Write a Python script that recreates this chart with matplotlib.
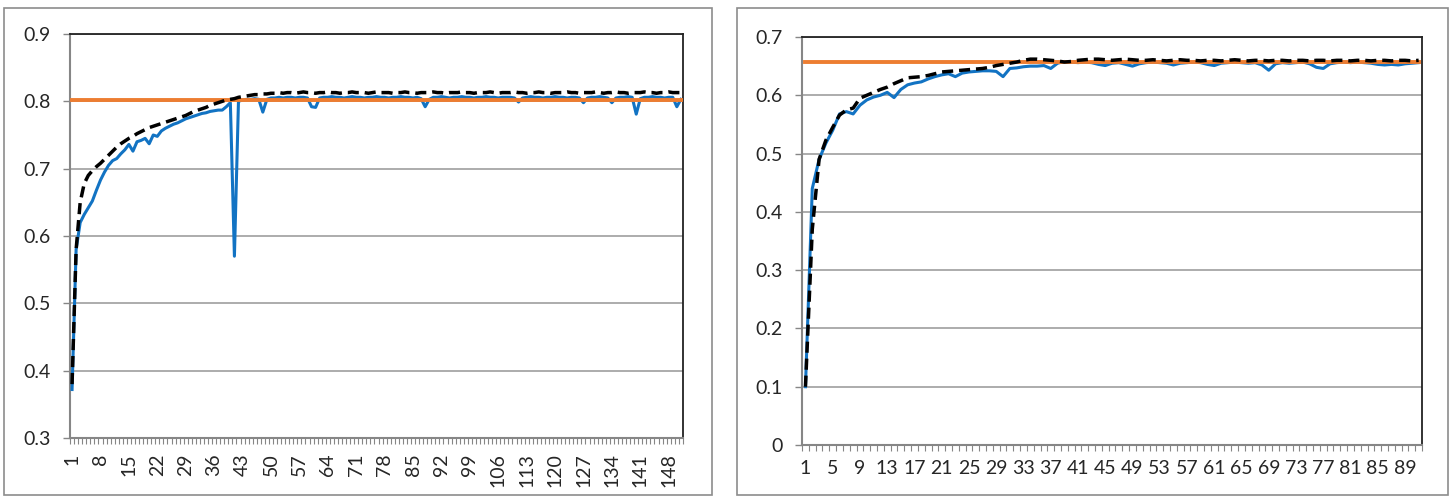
import matplotlib
matplotlib.use("Agg")
import matplotlib.pyplot as plt
import matplotlib.patches as patches
import numpy as np

plt.rcParams['font.family'] = ['Lato', 'DejaVu Sans']

# painel esquerdo (151 pontos)
esq_azul = [
    0.372, 0.580, 0.620, 0.632, 0.642, 0.652, 0.668, 0.683, 0.695, 0.705,
    0.712, 0.715, 0.722, 0.728, 0.736, 0.726, 0.740, 0.742, 0.745, 0.737,
    0.750, 0.748, 0.756, 0.760, 0.763, 0.766, 0.768, 0.771, 0.774, 0.776,
    0.778, 0.780, 0.782, 0.783, 0.785, 0.786, 0.787, 0.787, 0.792, 0.798,
    0.570, 0.800, 0.802, 0.803, 0.803, 0.804, 0.803, 0.784, 0.803, 0.805,
    0.805, 0.806, 0.805, 0.806, 0.806, 0.805, 0.806, 0.806, 0.805, 0.792,
    0.791, 0.805, 0.806, 0.806, 0.807, 0.806, 0.806, 0.805, 0.806, 0.807,
    0.806, 0.806, 0.805, 0.806, 0.806, 0.807, 0.806, 0.806, 0.805, 0.806,
    0.806, 0.807, 0.806, 0.806, 0.805, 0.806, 0.804, 0.792, 0.803, 0.806,
    0.806, 0.807, 0.806, 0.805, 0.806, 0.806, 0.807, 0.806, 0.806, 0.805,
    0.806, 0.806, 0.807, 0.806, 0.806, 0.805, 0.806, 0.806, 0.806, 0.805,
    0.799, 0.805, 0.806, 0.807, 0.806, 0.806, 0.805, 0.806, 0.806, 0.807,
    0.806, 0.806, 0.805, 0.806, 0.806, 0.805, 0.798, 0.805, 0.806, 0.806,
    0.807, 0.806, 0.805, 0.798, 0.805, 0.806, 0.806, 0.807, 0.806, 0.781,
    0.804, 0.806, 0.806, 0.807, 0.806, 0.806, 0.805, 0.806, 0.806, 0.792,
    0.803,
]
esq_tracejado = [
    0.380, 0.580, 0.650, 0.678, 0.690, 0.697, 0.703, 0.708, 0.714, 0.720,
    0.726, 0.732, 0.737, 0.741, 0.745, 0.748, 0.752, 0.755, 0.758, 0.761,
    0.763, 0.765, 0.767, 0.769, 0.771, 0.773, 0.775, 0.777, 0.779, 0.782,
    0.785, 0.787, 0.789, 0.791, 0.794, 0.796, 0.798, 0.800, 0.802, 0.803,
    0.804, 0.806, 0.807, 0.808, 0.809, 0.810, 0.810, 0.811, 0.811, 0.812,
    0.812, 0.813, 0.812, 0.813, 0.813, 0.812, 0.813, 0.814, 0.813, 0.813,
    0.812, 0.813, 0.813, 0.814, 0.813, 0.813, 0.812, 0.813, 0.813, 0.814,
    0.813, 0.813, 0.813, 0.812, 0.813, 0.814, 0.813, 0.813, 0.813, 0.812,
    0.813, 0.813, 0.814, 0.813, 0.813, 0.812, 0.813, 0.813, 0.813, 0.814,
    0.813, 0.813, 0.812, 0.813, 0.813, 0.813, 0.814, 0.813, 0.813, 0.812,
    0.813, 0.813, 0.813, 0.814, 0.813, 0.812, 0.813, 0.813, 0.813, 0.814,
    0.813, 0.813, 0.812, 0.813, 0.813, 0.814, 0.813, 0.813, 0.812, 0.813,
    0.813, 0.813, 0.814, 0.813, 0.813, 0.812, 0.813, 0.813, 0.813, 0.814,
    0.813, 0.812, 0.813, 0.813, 0.814, 0.813, 0.813, 0.812, 0.813, 0.813,
    0.813, 0.814, 0.813, 0.813, 0.812, 0.813, 0.813, 0.814, 0.813, 0.813,
    0.813,
]
esq_ref = 0.802

# painel direito (91 pontos)
dir_azul = [
    0.100, 0.440, 0.490, 0.518, 0.540, 0.568, 0.572, 0.568, 0.583, 0.592,
    0.597, 0.600, 0.605, 0.596, 0.610, 0.618, 0.621, 0.623, 0.628, 0.632,
    0.635, 0.637, 0.632, 0.638, 0.640, 0.641, 0.642, 0.642, 0.641, 0.632,
    0.646, 0.647, 0.649, 0.650, 0.650, 0.651, 0.646, 0.655, 0.658, 0.657,
    0.656, 0.657, 0.656, 0.653, 0.651, 0.655, 0.656, 0.653, 0.650, 0.654,
    0.656, 0.657, 0.656, 0.655, 0.652, 0.655, 0.656, 0.657, 0.656, 0.653,
    0.651, 0.655, 0.656, 0.657, 0.656, 0.655, 0.656, 0.652, 0.643, 0.654,
    0.656, 0.655, 0.656, 0.657, 0.654, 0.648, 0.646, 0.654, 0.656, 0.657,
    0.656, 0.657, 0.656, 0.655, 0.653, 0.652, 0.653, 0.652, 0.654, 0.655,
    0.656,
]
dir_tracejado = [
    0.100, 0.370, 0.490, 0.523, 0.545, 0.566, 0.575, 0.578, 0.595, 0.600,
    0.605, 0.610, 0.614, 0.620, 0.625, 0.630, 0.631, 0.632, 0.634, 0.637,
    0.640, 0.641, 0.642, 0.643, 0.644, 0.645, 0.646, 0.648, 0.651, 0.653,
    0.655, 0.657, 0.660, 0.662, 0.662, 0.661, 0.660, 0.659, 0.657, 0.658,
    0.660, 0.661, 0.662, 0.662, 0.661, 0.660, 0.661, 0.662, 0.661, 0.660,
    0.660, 0.661, 0.660, 0.659, 0.660, 0.661, 0.660, 0.660, 0.659, 0.660,
    0.660, 0.659, 0.660, 0.661, 0.660, 0.659, 0.660, 0.660, 0.659, 0.660,
    0.660, 0.659, 0.660, 0.660, 0.659, 0.660, 0.660, 0.659, 0.660, 0.660,
    0.659, 0.660, 0.660, 0.659, 0.660, 0.660, 0.659, 0.660, 0.660, 0.659,
    0.660,
]
dir_ref = 0.657

AZUL = '#1273C3'
LARANJA = '#ED7D31'
GRADE = '#A6A6A6'
EIXO = '#868686'
TEXTO = '#262626'


def painel(fig, pos, azul, tracejado, ref, ylim, passo, rot):
    ax = fig.add_axes(pos)
    n = len(azul)
    x = np.arange(1, n + 1)
    ax.plot(x, azul, color=AZUL, lw=2.2, zorder=3)
    ax.plot(x, [ref] * n, color=LARANJA, lw=2.8, zorder=4)
    ax.plot(x, tracejado, color='black', lw=2.5, ls=(0, (3.2, 1.7)), zorder=5)
    ax.set_xlim(0.5, n + 0.5)
    ax.set_ylim(ylim)
    ax.set_yticks(np.arange(ylim[0], ylim[1] + 1e-9, 0.1))
    ax.yaxis.set_major_formatter(
        matplotlib.ticker.FuncFormatter(lambda v, p: '0' if abs(v) < 1e-9 else '%g' % round(v, 1)))
    ax.grid(axis='y', color=GRADE, lw=1.3, zorder=1)
    ax.set_axisbelow(True)
    ax.set_xticks(np.arange(1, n + 1, passo))
    ax.set_xticklabels([str(i) for i in range(1, n + 1, passo)], rotation=rot)
    ax.set_xticks(np.arange(0.5, n + 1, 1), minor=True)
    ax.tick_params(axis='x', which='major', length=0, pad=11, labelsize=14, colors=TEXTO)
    ax.tick_params(axis='x', which='minor', length=4, width=0.8, color=EIXO)
    ax.tick_params(axis='y', length=5, width=1, color=EIXO, labelsize=14, labelcolor=TEXTO, pad=9)
    for lado in ['top', 'right']:
        ax.spines[lado].set_color('#222222')
        ax.spines[lado].set_linewidth(1.3)
    for lado in ['left', 'bottom']:
        ax.spines[lado].set_color(EIXO)
        ax.spines[lado].set_linewidth(1.5)
    return ax


fig = plt.figure(figsize=(14.53, 4.98), dpi=100)

# molduras das duas areas de grafico
fig.add_artist(patches.Rectangle((0.0028, 0.006), 0.4873, 0.978, transform=fig.transFigure,
                                 fill=False, edgecolor='#8C8C8C', lw=1.2))
fig.add_artist(patches.Rectangle((0.5072, 0.006), 0.4893, 0.978, transform=fig.transFigure,
                                 fill=False, edgecolor='#8C8C8C', lw=1.2))

painel(fig, [0.0482, 0.1205, 0.4218, 0.8112], esq_azul, esq_tracejado, esq_ref,
       (0.3, 0.9), 7, 90)
painel(fig, [0.552, 0.1064, 0.4267, 0.8193], dir_azul, dir_tracejado, dir_ref,
       (0.0, 0.7), 4, 0)

fig.savefig('out.png', dpi=100)
